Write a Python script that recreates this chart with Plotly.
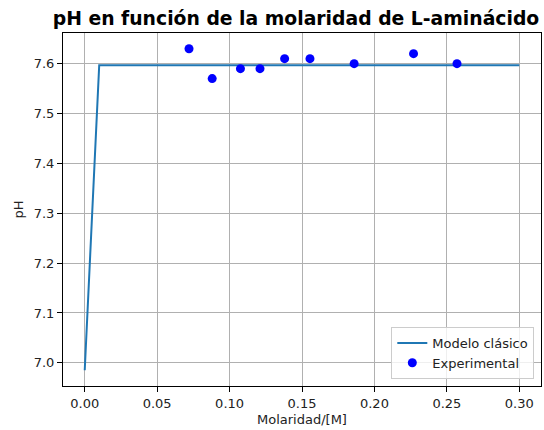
import plotly.graph_objects as go

# Model curve (Modelo clásico)
model_x = [0.0, 0.01, 0.05, 0.10, 0.15, 0.20, 0.25, 0.30]
model_ph = [6.985, 7.597, 7.597, 7.597, 7.597, 7.597, 7.597, 7.597]

# Experimental points
exp_x = [0.072, 0.088, 0.1075, 0.121, 0.138, 0.1555, 0.186, 0.227, 0.257]
exp_ph = [7.63, 7.57, 7.59, 7.59, 7.61, 7.61, 7.60, 7.62, 7.60]

x_ticks = [0.0, 0.05, 0.10, 0.15, 0.20, 0.25, 0.30]
x_tick_labels = ["0.00", "0.05", "0.10", "0.15", "0.20", "0.25", "0.30"]
y_ticks = [7.0, 7.1, 7.2, 7.3, 7.4, 7.5, 7.6]
y_tick_labels = ["7.0", "7.1", "7.2", "7.3", "7.4", "7.5", "7.6"]

FONT = "DejaVu Sans"
FS = 13

fig = go.Figure()
fig.add_trace(go.Scatter(
    x=model_x, y=model_ph, mode="lines", name="Modelo clásico",
    line=dict(color="#1f77b4", width=2),
))
fig.add_trace(go.Scatter(
    x=exp_x, y=exp_ph, mode="markers", name="Experimental",
    marker=dict(color="#0000ff", size=9, line=dict(width=0)),
))

axis_common = dict(
    showgrid=True, gridcolor="#b0b0b0", gridwidth=1,
    showline=True, linecolor="black", linewidth=1, mirror=True,
    ticks="outside", ticklen=5, tickcolor="black", tickwidth=1,
    zeroline=False,
    tickfont=dict(family=FONT, size=FS, color="#222222"),
)

fig.update_layout(
    width=544, height=430,
    margin=dict(l=63, r=3, t=33, b=44),
    paper_bgcolor="white", plot_bgcolor="white",
    font=dict(family=FONT, size=FS, color="#222222"),
    title=dict(
        text="<b>pH en función de la molaridad de L-aminácido</b>",
        x=296 / 544, xref="container", xanchor="center",
        y=1 - 18 / 430, yref="container", yanchor="middle",
        font=dict(family=FONT, size=18.8, color="black"),
    ),
    xaxis=dict(
        range=[-0.015, 0.315],
        tickvals=x_ticks, ticktext=x_tick_labels,
        title=dict(text="Molaridad/[M]", standoff=5,
                   font=dict(family=FONT, size=FS, color="#222222")),
        **axis_common,
    ),
    yaxis=dict(
        range=[6.9535, 7.6615],
        tickvals=y_ticks, ticktext=y_tick_labels,
        title=dict(text="pH", standoff=7,
                   font=dict(family=FONT, size=FS, color="#222222")),
        **axis_common,
    ),
    legend=dict(
        x=0.986, y=0.02, xanchor="right", yanchor="bottom",
        bgcolor="rgba(255,255,255,0.8)", bordercolor="#cccccc", borderwidth=1,
        font=dict(family=FONT, size=FS, color="#222222"),
        itemwidth=30,
    ),
    showlegend=True,
)

fig.write_html("out.html")
